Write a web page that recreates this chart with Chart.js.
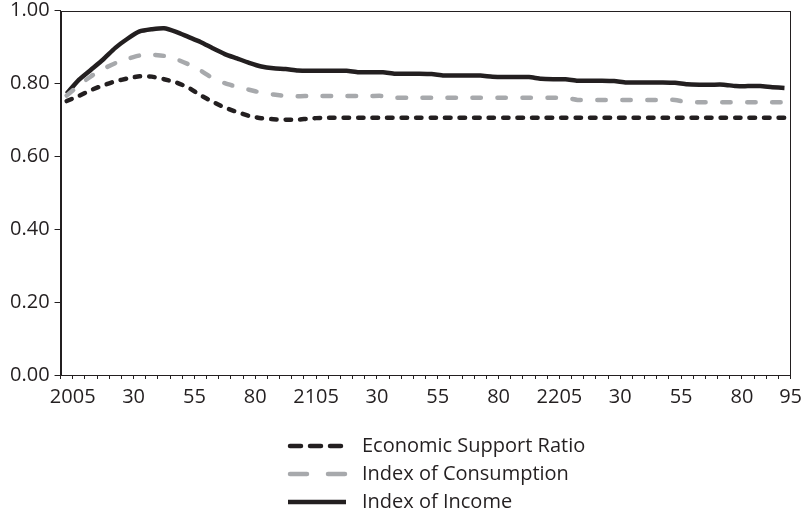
<!DOCTYPE html>
<html>
<head>
<meta charset="utf-8">
<script src="https://cdn.jsdelivr.net/npm/chart.js@4"></script>
<style>
  html, body { margin: 0; background: #fff; }
  #wrap { width: 802px; height: 514px; }
</style>
</head>
<body>
<div id="wrap"><canvas id="chart"></canvas></div>
<script>
// start year of each five-year period (plotted at the period midpoint)
const years = [
  2000, 2005, 2010, 2015, 2020, 2025, 2030, 2035, 2040, 2045,
  2050, 2055, 2060, 2065, 2070, 2075, 2080, 2085, 2090, 2095,
  2100, 2105, 2110, 2115, 2120, 2125, 2130, 2135, 2140, 2145,
  2150, 2155, 2160, 2165, 2170, 2175, 2180, 2185, 2190, 2195,
  2200, 2205, 2210, 2215, 2220, 2225, 2230, 2235, 2240, 2245,
  2250, 2255, 2260, 2265, 2270, 2275, 2280, 2285, 2290, 2295
];

const supportRatio = [
  0.752, 0.766, 0.782, 0.795, 0.806, 0.814, 0.820, 0.819, 0.812, 0.803,
  0.789, 0.768, 0.750, 0.734, 0.722, 0.711, 0.705, 0.702, 0.701, 0.701,
  0.704, 0.706, 0.706, 0.706, 0.706, 0.706, 0.706, 0.706, 0.706, 0.706,
  0.706, 0.706, 0.706, 0.706, 0.706, 0.706, 0.706, 0.706, 0.706, 0.706,
  0.706, 0.706, 0.706, 0.706, 0.706, 0.706, 0.706, 0.706, 0.706, 0.706,
  0.706, 0.706, 0.706, 0.706, 0.706, 0.706, 0.706, 0.706, 0.706, 0.706
];

const consumption = [
  0.767, 0.795, 0.820, 0.840, 0.856, 0.868, 0.877, 0.879, 0.876, 0.867,
  0.853, 0.836, 0.815, 0.801, 0.791, 0.783, 0.775, 0.770, 0.766, 0.765,
  0.766, 0.766, 0.766, 0.766, 0.766, 0.766, 0.766, 0.761, 0.761, 0.761,
  0.761, 0.761, 0.761, 0.761, 0.761, 0.761, 0.761, 0.761, 0.761, 0.761,
  0.761, 0.761, 0.755, 0.755, 0.755, 0.755, 0.755, 0.755, 0.755, 0.755,
  0.755, 0.749, 0.749, 0.749, 0.749, 0.749, 0.749, 0.749, 0.749, 0.749
];

const income = [
  0.772, 0.810, 0.838, 0.866, 0.898, 0.923, 0.943, 0.949, 0.952, 0.942,
  0.928, 0.914, 0.897, 0.881, 0.869, 0.857, 0.847, 0.842, 0.840, 0.836,
  0.835, 0.835, 0.835, 0.835, 0.831, 0.831, 0.831, 0.827, 0.827, 0.827,
  0.826, 0.822, 0.822, 0.822, 0.822, 0.819, 0.818, 0.818, 0.818, 0.813,
  0.812, 0.812, 0.808, 0.808, 0.808, 0.807, 0.803, 0.803, 0.803, 0.803,
  0.802, 0.798, 0.797, 0.797, 0.797, 0.793, 0.793, 0.793, 0.790, 0.788
];

const tickValues = [2005, 2030, 2055, 2080, 2105, 2130, 2155, 2180, 2205, 2230, 2255, 2280, 2300];
const tickText = ['2005', '30', '55', '80', '2105', '30', '55', '80', '2205', '30', '55', '80', '95'];

const ink = '#231f20';
const grey = '#a7a9ac';

function points(values) {
  return values.map((v, i) => ({ x: years[i] + 2.5, y: v }));
}

Chart.defaults.font.family = "'Open Sans', sans-serif";
Chart.defaults.font.size = 20;
Chart.defaults.color = ink;

// box round the plot area (top and right edges)
const frame = {
  id: 'frame',
  afterDatasetsDraw(chart) {
    const a = chart.chartArea;
    const ctx = chart.ctx;
    ctx.save();
    ctx.strokeStyle = ink;
    ctx.lineWidth = 1;
    ctx.strokeRect(Math.round(a.left) + 0.5, Math.round(a.top) + 0.5,
      Math.round(a.right - a.left) - 1, Math.round(a.bottom - a.top));
    ctx.restore();
  }
};

// stacked legend under the axis
const stackLegend = {
  id: 'stackLegend',
  afterDraw(chart) {
    const ctx = chart.ctx;
    const x0 = 288, sample = 58, gap = 16;
    let y = chart.chartArea.bottom + 71;
    ctx.save();
    chart.data.datasets.forEach(ds => {
      ctx.beginPath();
      ctx.strokeStyle = ds.borderColor;
      ctx.lineWidth = ds.borderWidth;
      ctx.lineCap = ds.legendDash.length ? 'round' : 'butt';
      ctx.setLineDash(ds.legendDash);
      ctx.moveTo(x0 + (ds.legendDash.length ? 2 : 0), y);
      ctx.lineTo(x0 + sample, y);
      ctx.stroke();
      ctx.setLineDash([]);
      ctx.fillStyle = ink;
      ctx.font = "20px 'Open Sans', sans-serif";
      ctx.textBaseline = 'middle';
      ctx.fillText(ds.label, x0 + sample + gap, y);
      y += 28;
    });
    ctx.restore();
  }
};

new Chart(document.getElementById('chart'), {
  type: 'line',
  data: {
    datasets: [
      {
        label: 'Economic Support Ratio',
        data: points(supportRatio),
        borderColor: ink,
        borderWidth: 4.5,
        borderDash: [5.5, 9],
        borderCapStyle: 'round',
        legendDash: [11, 9],
        pointRadius: 0,
        tension: 0.2
      },
      {
        label: 'Index of Consumption',
        data: points(consumption),
        borderColor: grey,
        borderWidth: 4.5,
        borderDash: [8.5, 16.5],
        borderCapStyle: 'round',
        legendDash: [17, 21],
        pointRadius: 0,
        tension: 0.2
      },
      {
        label: 'Index of Income',
        data: points(income),
        borderColor: ink,
        borderWidth: 4.5,
        legendDash: [],
        pointRadius: 0,
        tension: 0.2
      }
    ]
  },
  options: {
    responsive: true,
    maintainAspectRatio: false,
    animation: false,
    layout: { padding: { left: 5, right: 0, top: 0, bottom: 99 } },
    plugins: {
      legend: { display: false },
      tooltip: { enabled: false }
    },
    scales: {
      x: {
        type: 'linear',
        min: 2000,
        max: 2300,
        grid: { drawOnChartArea: false, tickLength: 4, color: ink },
        border: { color: ink, width: 1 },
        ticks: {
          stepSize: 5,
          autoSkip: false,
          maxRotation: 0,
          minRotation: 0,
          padding: 0,
          font: { lineHeight: 1.8 },
          callback: v => {
            const i = tickValues.indexOf(v);
            return i >= 0 ? tickText[i] : '';
          }
        }
      },
      y: {
        min: 0,
        max: 1,
        grid: { drawOnChartArea: false, tickLength: 6, color: ink },
        border: { color: ink, width: 1 },
        ticks: {
          stepSize: 0.2,
          padding: 5,
          font: { lineHeight: 0.57 },
          callback: v => v.toFixed(2)
        }
      }
    }
  },
  plugins: [frame, stackLegend]
});
</script>
</body>
</html>
